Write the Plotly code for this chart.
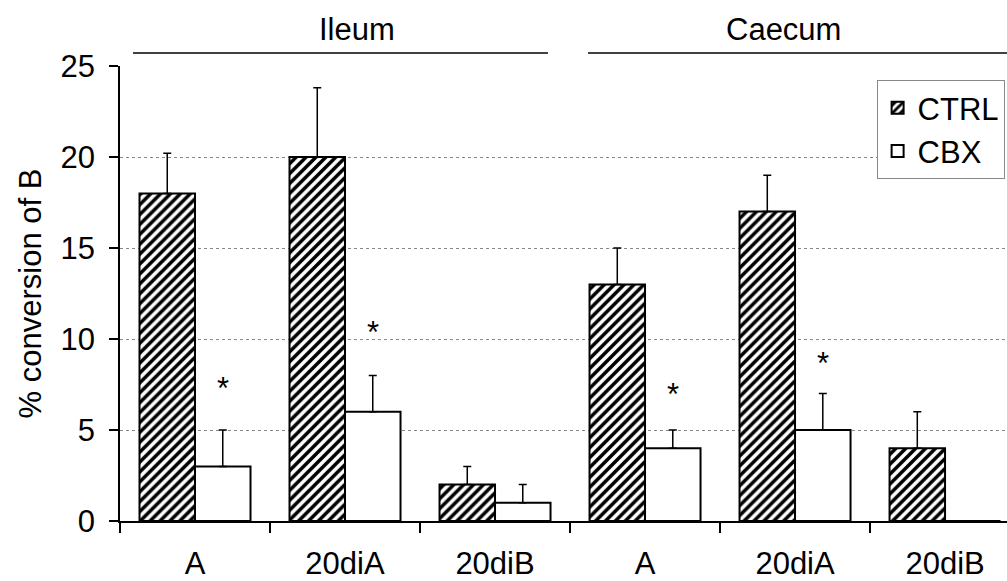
import plotly.graph_objects as go

categories = ["Ileum A", "Ileum 20diA", "Ileum 20diB", "Caecum A", "Caecum 20diA", "Caecum 20diB"]
tick_labels = ["A", "20diA", "20diB", "A", "20diA", "20diB"]
ctrl_values = [18, 20, 2, 13, 17, 4]
ctrl_errors = [2.2, 3.8, 1, 2, 2, 2]
cbx_values = [3, 6, 1, 4, 5, 0]
cbx_errors = [2, 2, 1, 1, 2, None]
star_values = [7.6, 10.7, None, 7.3, 9.0, None]
groups = ["Ileum", "Caecum"]

FONT = "Liberation Sans, Arial, sans-serif"
FS = 31

fig = go.Figure()
fig.add_trace(go.Bar(
    name="CTRL", x=categories, y=ctrl_values,
    marker=dict(color="white", line=dict(color="black", width=2),
                pattern=dict(shape="/", fgcolor="black", bgcolor="white", fgopacity=1,
                             size=7, solidity=0.5)),
    error_y=dict(type="data", array=ctrl_errors, arrayminus=[0] * len(ctrl_errors), symmetric=False,
                 color="black", thickness=1.5, width=4),
))
fig.add_trace(go.Bar(
    name="CBX", x=categories, y=cbx_values,
    marker=dict(color="white", line=dict(color="black", width=2)),
    error_y=dict(type="data", array=cbx_errors, arrayminus=[0] * len(cbx_errors), symmetric=False,
                 color="black", thickness=1.5, width=4),
))

for cat, sv in zip(categories, star_values):
    if sv is None:
        continue
    fig.add_annotation(x=cat, y=sv, text="*", showarrow=False, xshift=28, yshift=-6,
                       font=dict(family=FONT, size=FS, color="black"), yanchor="middle")

# group headers
fig.add_shape(type="line", xref="x", yref="paper", x0=-0.413, x1=2.353, y0=1.0286, y1=1.0286,
              line=dict(color="black", width=1.5))
fig.add_shape(type="line", xref="x", yref="paper", x0=2.62, x1=5.5, y0=1.0286, y1=1.0286,
              line=dict(color="black", width=1.5))
fig.add_annotation(x=1.08, y=1.081, xref="x", yref="paper", text=groups[0], showarrow=False,
                   font=dict(family=FONT, size=FS, color="black"), yanchor="middle")
fig.add_annotation(x=3.92, y=1.081, xref="x", yref="paper", text=groups[1], showarrow=False,
                   font=dict(family=FONT, size=FS, color="black"), yanchor="middle")

fig.update_layout(
    width=1007, height=581,
    margin=dict(l=120, r=0, t=66, b=60),
    paper_bgcolor="white", plot_bgcolor="white",
    barmode="group", bargap=0.26, bargroupgap=0,
    font=dict(family=FONT, size=FS, color="black"),
    showlegend=True,
    legend=dict(x=0.853, y=0.969, xanchor="left", yanchor="top",
                bordercolor="#888", borderwidth=1, bgcolor="white",
                font=dict(family=FONT, size=FS, color="black"),
                itemwidth=30, tracegroupgap=0),
)
fig.update_xaxes(
    type="category", categoryorder="array", categoryarray=categories,
    tickvals=categories, ticktext=tick_labels, tickson="boundaries",
    range=[-0.5, 5.413], showline=True, linecolor="black", linewidth=1.5,
    ticks="outside", ticklen=10, tickcolor="black", tickwidth=1.5,
    showgrid=False, tickfont=dict(family=FONT, size=FS, color="black"),
    ticklabelstandoff=14, automargin=False,
)
fig.update_yaxes(
    range=[0, 25], tickvals=[0, 5, 10, 15, 20, 25],
    showline=True, linecolor="black", linewidth=1.5,
    ticks="outside", ticklen=9, tickcolor="black", tickwidth=1.5,
    showgrid=True, gridcolor="#888", griddash="dot", gridwidth=1, zeroline=False,
    tickfont=dict(family=FONT, size=FS, color="black"), ticklabelstandoff=8, automargin=False,
    title=dict(text="% conversion of B", font=dict(family=FONT, size=FS, color="black"), standoff=10),
)

fig.write_html("out.html")
